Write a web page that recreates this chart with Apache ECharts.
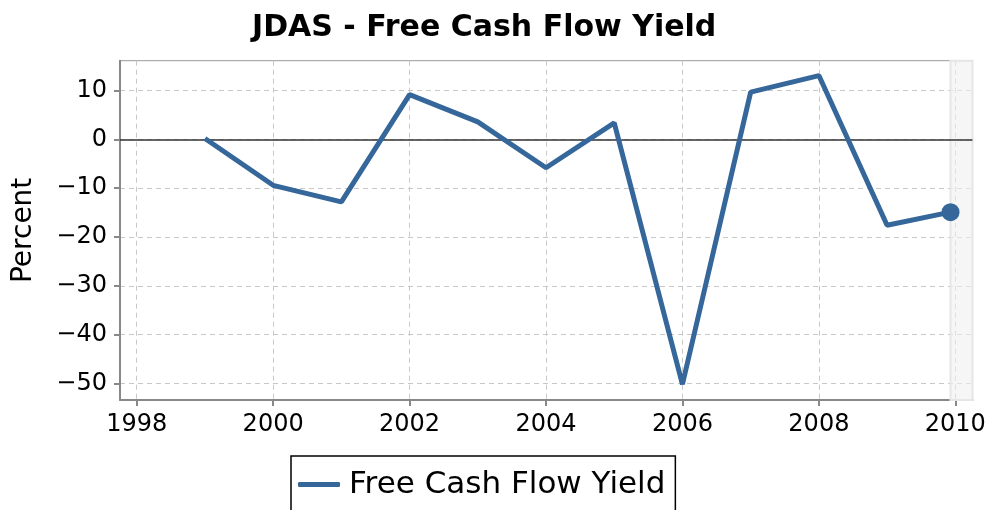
<!DOCTYPE html>
<html>
<head>
<meta charset="utf-8">
<script src="https://cdn.jsdelivr.net/npm/echarts@6/dist/echarts.min.js"></script>
<style>
html,body{margin:0;padding:0;background:#fff;}
#chart{width:990px;height:510px;}
</style>
</head>
<body>
<div id="chart"></div>
<script>
var titleText = 'JDAS - Free Cash Flow Yield';
var seriesName = 'Free Cash Flow Yield';
var yAxisName = 'Percent';
var years = [1999, 2000, 2001, 2002, 2003, 2004, 2005, 2006, 2007, 2008, 2009, 2009.93];
var values = [0.2, -9.4, -12.8, 9.2, 3.6, -5.8, 3.4, -50.2, 9.7, 13.1, -17.6, -14.9];
var xTicks = [1998, 2000, 2002, 2004, 2006, 2008, 2010];
var yTicks = [-50, -40, -30, -20, -10, 0, 10];
var xRange = [1997.755, 2010.252];
var yRange = [-53.42, 16.15];
var shadeRange = [2009.93, 2010.252];

var lineColor = '#35679a';
var font = 'DejaVu Sans';
var lineData = years.map(function (y, i) { return [y, values[i]]; });
var lastPoint = [lineData[lineData.length - 1]];

var chart = echarts.init(document.getElementById('chart'), null, {renderer: 'canvas'});
chart.setOption({
  animation: false,
  backgroundColor: '#fff',
  title: {
    text: titleText,
    left: 247,
    top: 8,
    textStyle: {fontFamily: font, fontSize: 30, fontWeight: 'bold', color: '#000'}
  },
  legend: {
    data: [{name: seriesName, icon: 'roundRect'}],
    left: 291,
    top: 456,
    padding: [13, 10, 14, 7],
    itemWidth: 42,
    itemHeight: 5,
    borderColor: '#000',
    borderWidth: 1.5,
    borderRadius: 0,
    textStyle: {fontFamily: font, fontSize: 31, color: '#000', padding: [0, 0, 0, 4]}
  },
  grid: {
    left: 120, right: 17.5, top: 60.7, bottom: 110,
    show: true, borderColor: '#999', borderWidth: 1, containLabel: false
  },
  xAxis: {
    type: 'value',
    min: xRange[0], max: xRange[1],
    axisLine: {show: true, onZero: false, lineStyle: {color: '#888', width: 2}},
    axisTick: {show: true, length: 6, customValues: xTicks, lineStyle: {color: '#888', width: 2}},
    axisLabel: {
      customValues: xTicks, margin: 13,
      fontFamily: font, fontSize: 24, color: '#000',
      formatter: function (v) { return String(Math.round(v)); }
    },
    splitLine: {show: true, lineStyle: {color: '#c8c8c8', width: 1, type: [5, 4]}}
  },
  yAxis: {
    type: 'value',
    min: yRange[0], max: yRange[1],
    name: yAxisName,
    nameLocation: 'middle',
    nameGap: 82,
    nameTextStyle: {fontFamily: font, fontSize: 28, color: '#000'},
    axisLine: {show: true, onZero: false, lineStyle: {color: '#888', width: 2}},
    axisTick: {show: true, length: 6, customValues: yTicks, lineStyle: {color: '#888', width: 2}},
    axisLabel: {
      customValues: yTicks, margin: 13,
      fontFamily: font, fontSize: 24, color: '#000',
      formatter: function (v) { return String(Math.round(v)).replace('-', '\u2212'); }
    },
    splitLine: {show: true, lineStyle: {color: '#c8c8c8', width: 1, type: [5, 4]}}
  },
  series: [
    {
      name: seriesName,
      type: 'line',
      data: lineData,
      showSymbol: false,
      symbol: 'none',
      lineStyle: {color: lineColor, width: 5},
      itemStyle: {color: lineColor},
      z: 5,
      markLine: {
        silent: true,
        symbol: 'none',
        label: {show: false},
        lineStyle: {color: '#333', width: 1.5, type: 'solid'},
        data: [{yAxis: 0}]
      },
      markArea: {
        silent: true,
        itemStyle: {color: 'rgba(240,240,240,0.6)', borderColor: '#e6e6e6', borderWidth: 2},
        data: [[{xAxis: shadeRange[0]}, {xAxis: shadeRange[1]}]]
      }
    },
    {
      name: 'last',
      type: 'scatter',
      data: lastPoint,
      symbol: 'circle',
      symbolSize: 18,
      itemStyle: {color: lineColor, opacity: 1},
      z: 6
    }
  ]
});
</script>
</body>
</html>
